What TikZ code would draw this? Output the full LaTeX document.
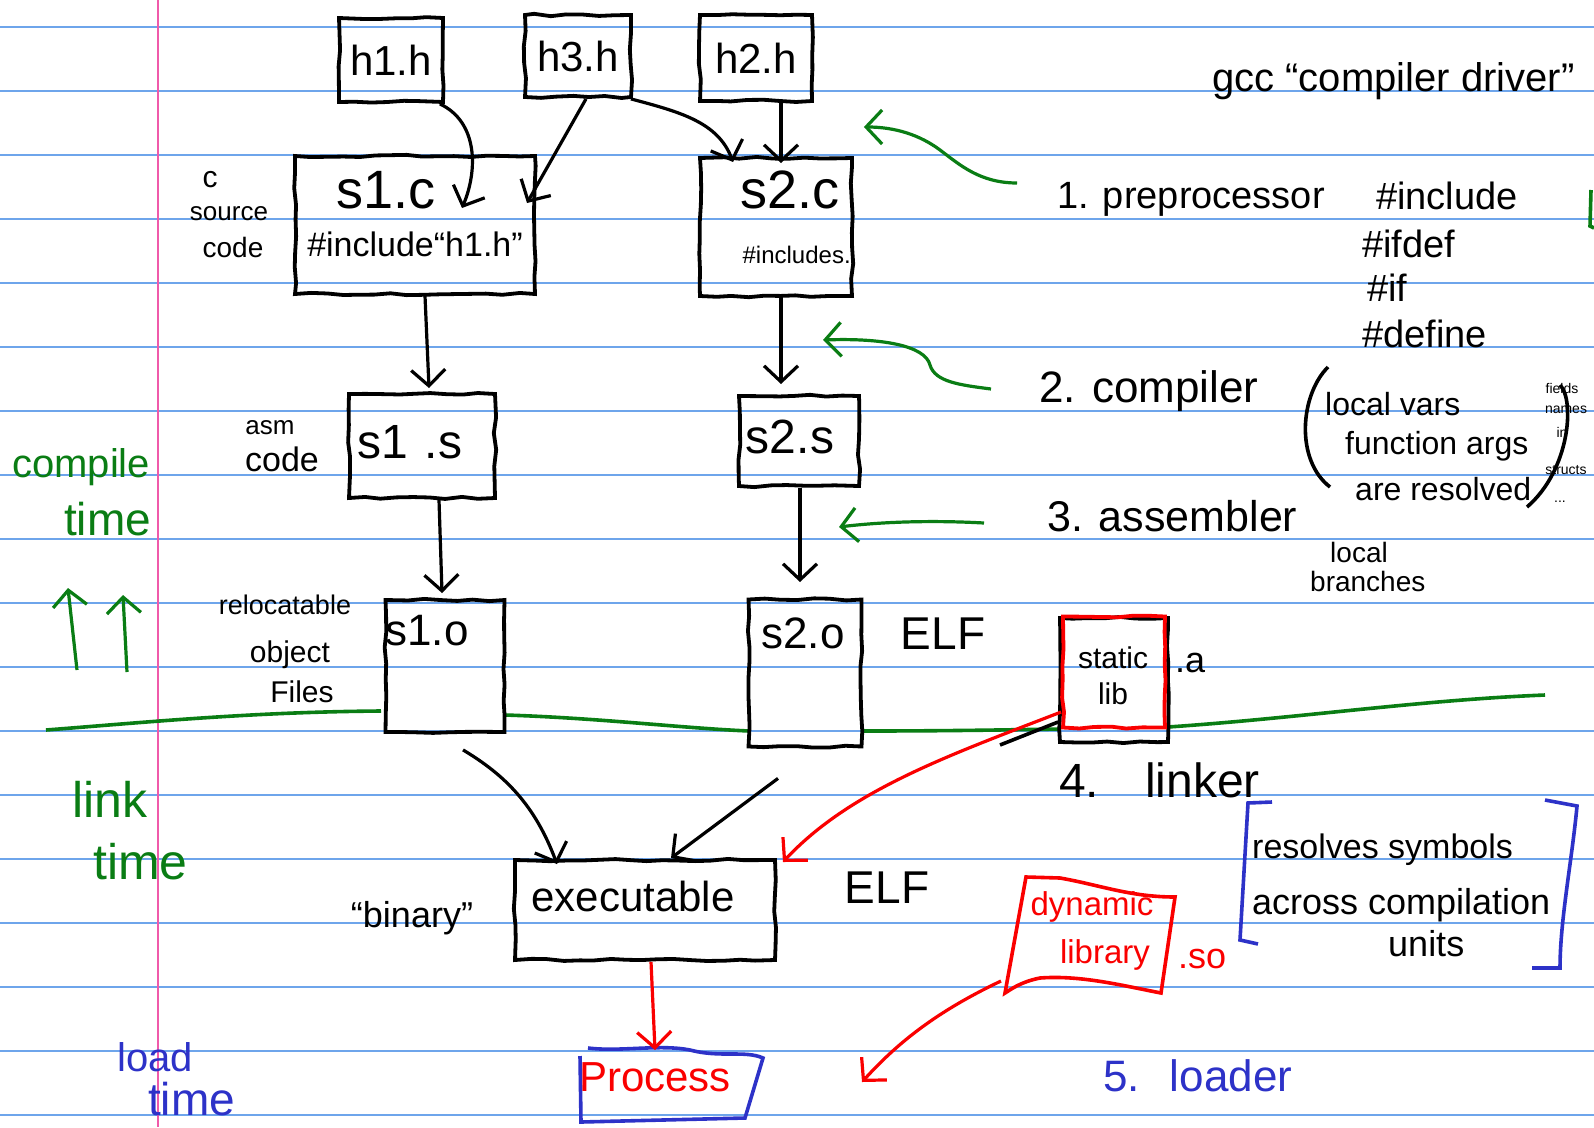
\documentclass[tikz,border=0pt]{standalone}
\usepackage{fontspec}
\setmainfont{Liberation Sans}
\usetikzlibrary{arrows.meta,decorations.pathmorphing,calc}
\definecolor{rulec}{RGB}{110,165,235}
\definecolor{marginc}{RGB}{240,90,170}
\definecolor{gr}{RGB}{10,125,20}
\definecolor{bl}{RGB}{45,50,200}
\definecolor{rd}{RGB}{250,0,0}
\newcommand{\hwf}[1]{\fontsize{#1}{#1}\selectfont}
\begin{document}
\pgfmathsetseed{7}
\begin{tikzpicture}[x=1pt,y=-1pt,
  hbox/.style={draw=black, line width=3.8pt, fill=none, inner sep=0pt,
    decorate, decoration={random steps,segment length=16pt,amplitude=1.2pt}},
  lbl/.style={inner sep=0pt, anchor=mid, yshift=-9pt},
  lblw/.style={inner sep=0pt, anchor=mid west, yshift=-9pt},
  arr/.style={line width=3.2pt, -{Straight Barb[length=16pt,width=34pt,line width=3.2pt]}},
  rarr/.style={arr, draw=rd},
  garr/.style={arr, draw=gr},
  note/.style={inner sep=0pt, font=\hwf{14}},
  pen/.style={line width=3.6pt},
]
\useasboundingbox (0,0) rectangle (1594,1127);
\fill[white] (0,0) rectangle (1594,1127);
% ruled paper
\foreach \k in {0,...,17} {
  \draw[rulec, line width=1.6pt] (0,{27+64*\k}) -- (1594,{27+64*\k});
}
\draw[marginc, line width=2pt] (158,0) -- (158,1127);

% green time divider
\draw[gr, pen] (46,730) .. controls (150,722) and (250,712) .. (381,711);
\draw[gr, pen] (505,715) .. controls (600,718) and (680,728) .. (749,731);
\draw[gr, pen] (864,731) .. controls (940,731) and (1000,730) .. (1060,729);
\draw[gr, pen] (1168,727) .. controls (1300,718) and (1420,700) .. (1545,695);
\draw[gr, pen] (1591,190) -- (1590,226) -- (1594,228);

% boxes
\node[hbox, minimum width=104pt, minimum height=84pt] (h1) at (391,60) {\hwf{42}h1.h};
\node[hbox, minimum width=106pt, minimum height=82pt] (h3) at (578,56) {\hwf{42}h3.h};
\node[hbox, minimum width=112pt, minimum height=86pt] (h2) at (756,58) {\hwf{42}h2.h};
\node[hbox, minimum width=240pt, minimum height=138pt] (s1c) at (415,225) {};
\node[hbox, minimum width=152pt, minimum height=138pt] (s2c) at (776,227) {};
\node[hbox, minimum width=146pt, minimum height=104pt] (s1s) at (422,446) {};
\node[hbox, minimum width=120pt, minimum height=90pt] (s2s) at (799,441) {};
\node[hbox, minimum width=119pt, minimum height=132pt] (s1o) at (445,666) {};
\node[hbox, minimum width=113pt, minimum height=147pt] (s2o) at (805,673) {};
\node[hbox, minimum width=108pt, minimum height=124pt] (stlb) at (1114,680) {};
\node[hbox, draw=rd, minimum width=102pt, minimum height=111pt] (stlbr) at (1114,672) {};
\node[hbox, minimum width=260pt, minimum height=100pt] (exe) at (645,910) {};

% box texts
\node[lbl, font=\hwf{54}] (s1ct) at (386,197) {s1.c};
\node[lbl, font=\hwf{34}] (s1ci) at (415,245) {\#include“h1.h”};
\node[lbl, font=\hwf{54}] (s2ct) at (790,197) {s2.c};
\node[lbl, font=\hwf{24}] (s2ci) at (800,252) {\#includes..};
\node[lbl, font=\hwf{48}] (s1st) at (410,447) {s1\,\,.s};
\node[lbl, font=\hwf{48}] (s2st) at (790,442) {s2.s};
\node[lbl, font=\hwf{44}] (s1ot) at (427,634) {s1.o};
\node[lbl, font=\hwf{44}] (s2ot) at (803,637) {s2.o};
\node[lbl, font=\hwf{30}] (stt1) at (1113,657) {static};
\node[lbl, font=\hwf{30}] (stt2) at (1113,693) {lib};
\node[lbl, font=\hwf{42}] (exet) at (633,900) {executable};

% process (blue box)
\draw[bl, pen] (580,1056) -- (581,1122) -- (745,1118) -- (763,1058)
  .. controls (745,1050) and (720,1058) .. (690,1050) .. controls (660,1044) and (620,1052) .. (588,1048);
\node[lbl, font=\hwf{42}, text=rd] (proc) at (655,1080) {Process};

% dynamic library (red box)
\draw[rd, pen] (1005,993) -- (1026,877) -- (1060,878)
  .. controls (1100,885) and (1130,897) .. (1175,897) -- (1161,993)
  .. controls (1120,985) and (1080,975) .. (1040,978) .. controls (1020,982) and (1010,990) .. cycle;
\node[lbl, font=\hwf{33}, text=rd] (dyn1) at (1092,904) {dynamic};
\node[lbl, font=\hwf{33}, text=rd] (dyn2) at (1105,952) {library};
\coordinate (dynL) at (1001,981);
\node[lblw, font=\hwf{36}, text=rd] (so) at (1178,957) {.so};

% side labels
\node[lbl, font=\hwf{30}] (lc) at (210,176) {c};
\node[lbl, font=\hwf{26}] (lsrc) at (229,209) {source};
\node[lbl, font=\hwf{28}] (lcode) at (233,246) {code};
\node[lbl, font=\hwf{26}] (lasm) at (270,423) {asm};
\node[lbl, font=\hwf{34}] (lcode2) at (282,460) {code};
\node[lbl, font=\hwf{27}] (lrel) at (285,603) {relocatable};
\node[lbl, font=\hwf{30}] (lobj) at (290,651) {object};
\node[lbl, font=\hwf{30}] (lfil) at (302,691) {Files};
\node[lbl, font=\hwf{36}] (lbin) at (412,916) {“binary”};
\node[lbl, font=\hwf{46}] (elf1) at (943,638) {ELF};
\node[lbl, font=\hwf{46}] (elf2) at (887,892) {ELF};
\node[lblw, font=\hwf{36}] (dota) at (1175,661) {.a};

% right-hand notes
\node[lblw, font=\hwf{40}] (gcc) at (1212,80) {gcc “compiler driver”};
\node[lblw, font=\hwf{38}] (pre) at (1057,197) {1. preprocessor};
\node[lblw, font=\hwf{38}] (inc) at (1376,198) {\#include};
\node[lblw, font=\hwf{38}] (ifd) at (1362,246) {\#ifdef};
\node[lblw, font=\hwf{38}] (iff) at (1367,290) {\#if};
\node[lblw, font=\hwf{38}] (def) at (1362,336) {\#define};
\node[lblw, font=\hwf{44}] (comp) at (1039,391) {2. compiler};
\node[lblw, font=\hwf{32}] (lv) at (1325,404) {local vars};
\node[lblw, font=\hwf{32}] (fa) at (1345,443) {function args};
\node[lblw, font=\hwf{32}] (ar) at (1355,489) {are resolved};
\draw[pen] (1328,367) .. controls (1300,395) and (1295,460) .. (1330,487);
\draw[pen] (1560,385) .. controls (1575,400) and (1570,470) .. (1527,507);
\node[note] (nf) at (1562,388) {fields};
\node[note] (nn) at (1566,410) {names};
\node[note] (ni) at (1562,432) {in};
\node[note] (ns) at (1566,470) {structs};
\node[note] (nd) at (1560,502) {...};
\node[lblw, font=\hwf{43}] (asmb) at (1047,520) {3. assembler};
\node[lblw, font=\hwf{28}] (lb1) at (1330,551) {local};
\node[lblw, font=\hwf{28}] (lb2) at (1310,580) {branches};
\node[lblw, font=\hwf{48}] (lnk) at (1059,786) {4.\hspace{46pt}linker};
\draw[bl, pen] (1272,802) -- (1248,803) -- (1240,940) -- (1258,944);
\draw[bl, pen] (1545,800) -- (1577,806) .. controls (1572,860) and (1560,920) .. (1560,968) -- (1532,968);
\node[lblw, font=\hwf{34}] (rs) at (1252,847) {resolves symbols};
\node[lblw, font=\hwf{36}] (acu) at (1252,903) {across compilation};
\node[lblw, font=\hwf{36}] (un) at (1388,945) {units};
\node[lblw, font=\hwf{44}, text=bl] (ldr) at (1103,1080) {5.\hspace{30pt}loader};

% time labels
\node[lblw, font=\hwf{40}, text=gr] (ct1) at (12,466) {compile};
\node[lblw, font=\hwf{46}, text=gr] (ct2) at (64,524) {time};
\node[lblw, font=\hwf{50}, text=gr] (lt1) at (72,806) {link};
\node[lblw, font=\hwf{50}, text=gr] (lt2) at (93,868) {time};
\node[lblw, font=\hwf{40}, text=bl] (dt1) at (117,1060) {load};
\node[lblw, font=\hwf{46}, text=bl] (dt2) at (148,1104) {time};
\coordinate (up1a) at (77,670); \coordinate (up1b) at (68,588);
\coordinate (up2a) at (127,672); \coordinate (up2b) at (123,595);
\draw[garr] (up1a) -- (up1b);
\draw[garr] (up2a) -- (up2b);

% green pointer arrows
\coordinate (g1s) at (1017,183);
\draw[garr] (g1s) .. controls (980,183) and (960,165) .. (940,150) .. controls (920,135) and (895,127) .. ([xshift=10pt]s2c.north east |- 0,127);
\coordinate (g2s) at (991,389);
\draw[garr] (g2s) .. controls (960,385) and (935,382) .. (930,365) .. controls (925,345) and (880,338) .. (823,340);
\coordinate (g3s) at (984,523);
\draw[garr] (g3s) .. controls (930,520) and (880,522) .. (839,527);

% black flow arrows
\coordinate (e1) at (462,208);
\draw[arr] ([xshift=-5pt]h1.south east) .. controls (478,122) and (478,170) .. (e1);
\coordinate (e2) at (527,203);
\draw[arr] ([xshift=8pt]h3.south) -- (e2);
\coordinate (e3) at (733,162);
\draw[arr] ([xshift=-2pt]h3.south east) .. controls (680,112) and (718,122) .. (e3);
\draw[arr] ([xshift=25pt]h2.south) -- (781,163);
\draw[arr] ([xshift=10pt]s1c.south) -- (429,388);
\draw[arr] ([xshift=5pt]s2c.south) -- (781,384);
\draw[arr] ([xshift=17pt]s1s.south) -- (442,593);
\draw[arr] ([xshift=1pt]s2s.south) -- (800,582);
\draw[arr] ([xshift=18pt,yshift=-16pt]s1o.south) .. controls (505,775) and (535,805) .. ([xshift=-88pt,yshift=-6pt]exe.north);
\draw[arr] ([xshift=-27pt,yshift=-30pt]s2o.south) -- ([xshift=26pt]exe.north);

% red arrows
\draw[pen] ([yshift=-42pt]stlb.west) -- (1000,745);
\draw[rarr] ([yshift=-40pt]stlbr.west) .. controls (950,755) and (850,790) .. (783,862);
\draw[rarr] ([xshift=6pt]exe.south) -- (proc.north |- 0,1050);
\draw[rarr] (dynL) .. controls (940,1010) and (900,1040) .. (862,1082);
\end{tikzpicture}
\end{document}
